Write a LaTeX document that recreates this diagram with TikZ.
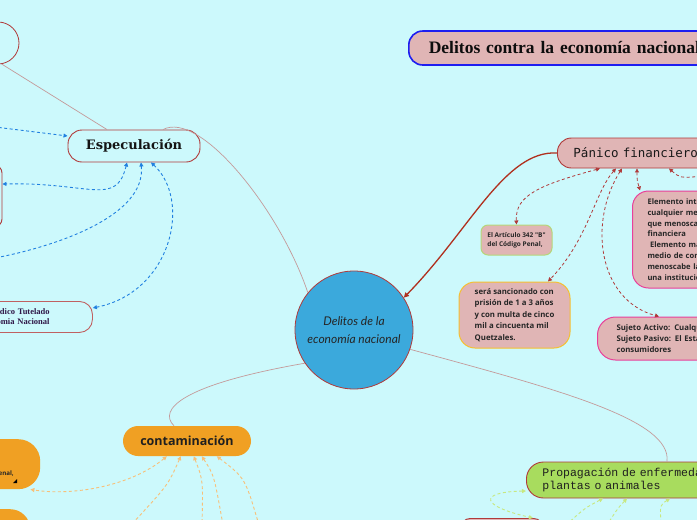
\documentclass[tikz,border=0pt]{standalone}
\usepackage{fontspec}
\usetikzlibrary{arrows.meta}
\newfontfamily\boxfont{Open Sans}
\newfontfamily\panfont{DejaVu Sans Mono}
\newfontfamily\propfont{Liberation Mono}
\newfontfamily\serfont{Liberation Serif}
\newfontfamily\heavyserif{DejaVu Serif}
\newfontfamily\centfont{Lato}
\definecolor{bg}{HTML}{CCF9FC}
\definecolor{dred}{HTML}{B03A3A}
\definecolor{lconn}{HTML}{C49A9A}
\definecolor{bluec}{HTML}{2080E0}
\definecolor{pinkf}{HTML}{E0B5B5}
\definecolor{titleblue}{HTML}{1E1EF0}
\definecolor{redarrow}{HTML}{B0301E}
\definecolor{greenline}{HTML}{B5D77A}
\definecolor{yellowline}{HTML}{F5C030}
\definecolor{magline}{HTML}{E8409A}
\definecolor{centf}{HTML}{3BA9DC}
\definecolor{orangef}{HTML}{F0A023}
\definecolor{orangedash}{HTML}{F8C078}
\definecolor{greenf}{HTML}{A8DC5E}
\definecolor{greendash}{HTML}{C8E880}
\definecolor{bientext}{HTML}{301848}
\tikzset{
  outlinebox/.style={draw=dred, line width=0.9pt},
  pinkbox/.style={fill=pinkf, line width=1pt, rounded corners=12pt},
  orangebox/.style={fill=orangef, rounded corners=18pt},
  conn/.style={draw=lconn, line width=0.7pt},
  bluecon/.style={draw=bluec, dash pattern=on 3pt off 2.5pt, line width=0.9pt, >={Triangle[length=4pt,width=4pt]}, <->},
  redcon/.style={draw=dred, dash pattern=on 3pt off 2.5pt, line width=0.8pt, >={Triangle[length=4pt,width=4pt]}, <->},
  orangecon/.style={draw=orangedash, dash pattern=on 3pt off 2.5pt, line width=0.9pt, >={Triangle[length=4pt,width=4pt]}, <->},
  greencon/.style={draw=greendash, dash pattern=on 3pt off 2.5pt, line width=0.9pt, >={Triangle[length=4pt,width=4pt]}, <->},
  smalltext/.style={font=\boxfont\bfseries\fontsize{7.8}{11.4}\selectfont, text=black!85},
}
\begin{document}
\begin{tikzpicture}[x=1pt,y=-1pt]
\useasboundingbox (0,0) rectangle (697,520);
\fill[bg] (0,0) rectangle (697,520);
\clip (0,0) rectangle (697,520);

% ---------- nodes ----------
\node[circle, outlinebox, line width=0.8pt, minimum size=42pt] (tlc) at (-2,43) {};
\node[outlinebox, rounded corners=14pt, minimum width=132pt, minimum height=32pt, inner sep=0pt,
      font=\heavyserif\bfseries\fontsize{13}{15}\selectfont, text=black!92] (esp) at (134,146) {Especulación};
\node[outlinebox, rounded corners=8pt, minimum width=62pt, minimum height=62pt] (lbox) at (-29,196) {};
\node[outlinebox, draw=dred!80, rounded corners=13pt, anchor=north west, text width=120pt, inner xsep=7pt,
      minimum height=31pt, align=left, font=\serfont\bfseries\fontsize{8.5}{10}\selectfont, text=bientext] (bien) at (-42,301)
      {Bien Jurídico Tutelado\\La Economia Nacional};

\node[draw=titleblue, fill=pinkf, line width=1.6pt, rounded corners=14pt, anchor=west, text width=330pt,
      inner xsep=20pt, minimum height=34pt, align=left,
      font=\serfont\bfseries\fontsize{17.5}{20}\selectfont, text=black!95] (title) at (408,48)
      {Delitos contra la economía nacional};

\node[pinkbox, outlinebox, rounded corners=14pt, anchor=west, text width=180pt, inner xsep=16pt,
      minimum height=30pt, align=left, font=\panfont\fontsize{12.5}{14}\selectfont, text=black!90] (pan) at (557,153)
      {Pánico financiero};

\node[circle, fill=centf, draw=dred, line width=0.8pt, minimum size=118pt, align=center,
      font=\centfont\itshape\fontsize{12}{18.5}\selectfont, text=black!85] (c) at (354,330)
      {Delitos de la\\economía nacional};

\node[pinkbox, draw=greenline, rounded corners=7pt, minimum width=71pt, minimum height=30pt, align=left,
      font=\boxfont\bfseries\fontsize{6.5}{8.8}\selectfont, text=black!85] (art) at (516.5,240)
      {El Artículo 342 "B"\\del Código Penal,};

\node[pinkbox, draw=yellowline, rounded corners=16pt, minimum width=111pt, minimum height=66pt, align=left,
      smalltext] (sera) at (514.5,315)
      {será sancionado con\\prisión de 1 a 3 años\\y con multa de cinco\\mil a cincuenta mil\\Quetzales.};

\node[pinkbox, draw=magline, rounded corners=16pt, anchor=west, text width=200pt, inner xsep=15pt,
      minimum height=97pt, align=left, font=\boxfont\bfseries\fontsize{7.6}{10.8}\selectfont, text=black!85] (elem) at (632,239.5)
      {Elemento intencional:\\cualquier medio de comunicación\\que menoscabe la confianza\\financiera\\\hspace*{2.5pt}Elemento material:\\medio de comunicación que\\menoscabe la confianza en\\una institución financiera};

\node[pinkbox, draw=magline, rounded corners=18pt, anchor=west, text width=200pt, inner xsep=19pt,
      minimum height=43pt, align=left, smalltext] (suj) at (597,338.5)
      {Sujeto Activo: Cualquier persona\\Sujeto Pasivo: El Estado y los\\consumidores};

\node[orangebox, rounded corners=15pt, minimum width=128pt, minimum height=30pt,
      font=\boxfont\bfseries\fontsize{12.5}{14}\selectfont, text=black!88] (cont) at (187,441) {contaminación};

\node[orangebox, rounded corners=22pt, anchor=north west, minimum width=120pt, minimum height=50pt] (lob) at (-80,439) {};
\node[anchor=base east, inner sep=0pt, font=\boxfont\bfseries\fontsize{6.2}{8}\selectfont, text=black!85] (lobt) at (14,475) {del Código Penal,};
\fill[black] (13,483) -- (17,483) -- (17,479) -- cycle;
\node[orangebox, rounded corners=20pt, anchor=north west, minimum width=110pt, minimum height=51pt] (lob2) at (-80,509) {};

\node[fill=greenf, outlinebox, rounded corners=17pt, anchor=west, text width=240pt, inner xsep=16pt,
      minimum height=36pt, align=left, font=\propfont\fontsize{11.5}{13.5}\selectfont, text=black!88] (prop) at (526,480)
      {Propagación de enfermedades en\\plantas o animales};

\node[outlinebox, fill=pinkf, rounded corners=10pt, anchor=north west, minimum width=83pt, minimum height=40pt] (bbox) at (460,518) {};

% free ends
\coordinate (lb1) at (-5,127);
\coordinate (lb3) at (-5,258);
\coordinate (re1) at (705,176);
\coordinate (ob2) at (131,525);
\coordinate (ob3) at (202,525);
\coordinate (ob4) at (223,525);
\coordinate (ob5) at (259,525);
\coordinate (gb2) at (566,525);
\coordinate (gb3) at (607,525);
\coordinate (gb4) at (661,525);

% ---------- plain connectors ----------
\draw[conn] (tlc.-80) -- ([xshift=-27pt]esp.north);
\draw[conn] ([xshift=29pt]esp.north) .. controls (200,110) and (280,210) .. (c.141);
\draw[conn] (c.214) .. controls (180,385) and (158,410) .. ([xshift=-13pt]cont.north);
\draw[conn] (c.-19) .. controls (560,390) and (672,420) .. ([xshift=141pt]prop.north west);
\draw[draw=redarrow, line width=1.3pt, -{Triangle[length=5pt,width=5pt]}] (pan.west) .. controls (505,150) and (470,230) .. (c.33);

% ---------- blue dashed ----------
\draw[bluecon] (lb1) -- ([yshift=10pt]esp.west);
\draw[bluecon] ([xshift=-7pt]esp.south) .. controls (116,207) and (90,182) .. ([yshift=12pt]lbox.east);
\draw[bluecon] ([xshift=7pt]esp.south) .. controls (146,215) and (60,245) .. (lb3);
\draw[bluecon] ([xshift=17pt]esp.south) .. controls (192,200) and (172,292) .. ([yshift=9pt]bien.east);

% ---------- red dashed ----------
\draw[redcon] ([xshift=43pt]pan.south west) .. controls (540,185) and (515,195) .. (art.north);
\draw[redcon] ([xshift=59pt]pan.south west) .. controls (595,192) and (588,240) .. ([xshift=33.5pt]sera.north);
\draw[redcon] ([xshift=65pt]pan.south west) .. controls (588,222) and (598,300) .. ([xshift=62pt]suj.north west);
\draw[redcon] ([xshift=80pt]pan.south west) .. controls (637,180) .. ([xshift=8pt]elem.north west);
\draw[redcon] ([xshift=112pt]pan.south west) .. controls (680,178) .. (re1);

% ---------- orange dashed ----------
\draw[orangecon] ([xshift=44pt]cont.south west) .. controls (130,487) and (70,496) .. ([xshift=-10pt]lob.south east);
\draw[orangecon] ([xshift=58pt]cont.south west) .. controls (168,485) .. (ob2);
\draw[orangecon] ([xshift=71pt]cont.south west) .. controls (203,480) .. (ob3);
\draw[orangecon] ([xshift=79pt]cont.south west) .. controls (214,475) .. (ob4);
\draw[orangecon] ([xshift=94pt]cont.south west) .. controls (245,478) .. (ob5);

% ---------- green dashed ----------
\draw[greencon] ([yshift=-11pt]prop.west) .. controls (478,492) and (480,506) .. ([xshift=73pt]bbox.north west);
\draw[greencon] ([xshift=77pt]prop.south west) .. controls (585,508) .. (gb2);
\draw[greencon] ([xshift=101pt]prop.south west) .. controls (618,508) .. (gb3);
\draw[greencon] ([xshift=144pt]prop.south west) .. controls (660,505) .. (gb4);
\end{tikzpicture}
\end{document}
